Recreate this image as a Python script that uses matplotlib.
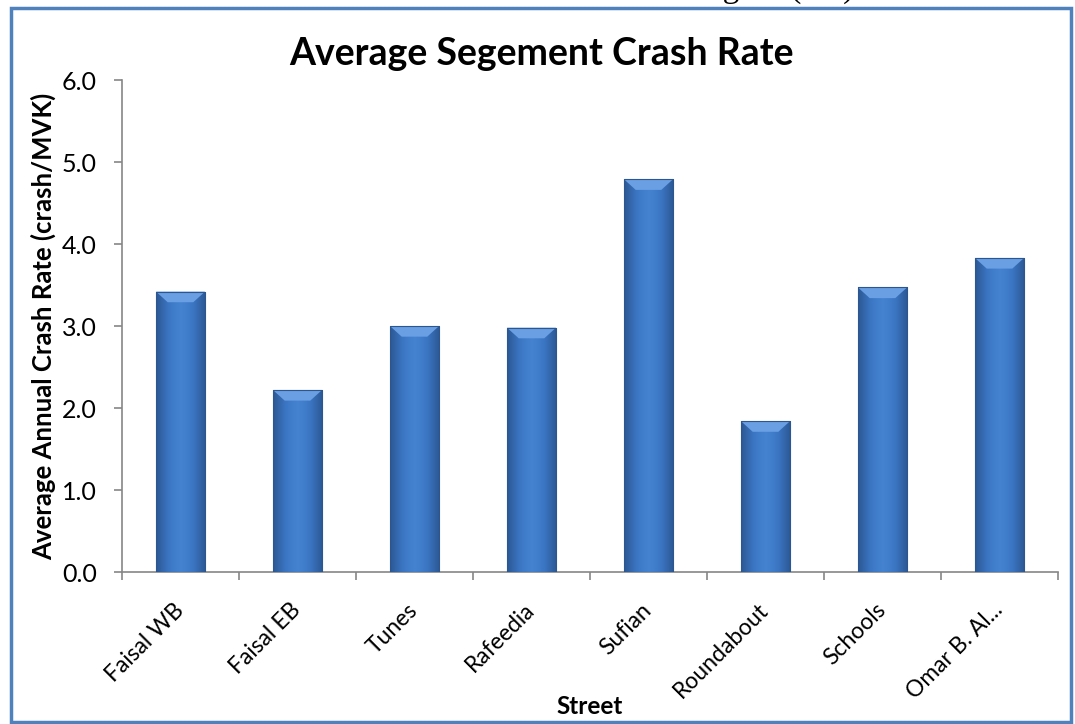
import numpy as np
import matplotlib
matplotlib.use("Agg")
import matplotlib.pyplot as plt
import matplotlib.transforms as mtransforms
from matplotlib.colors import LinearSegmentedColormap
from matplotlib.patches import Rectangle, Polygon

plt.rcParams['font.family'] = ['Lato', 'DejaVu Sans']

streets = ["Faisal WB", "Faisal EB", "Tunes", "Rafeedia", "Sufian",
           "Roundabout", "Schools", "Omar B. Al..."]
crash_rate = [3.42, 2.22, 3.00, 2.98, 4.79, 1.84, 3.47, 3.83]

fig = plt.figure(figsize=(10.75, 7.24), dpi=100)
ax = fig.add_axes([122 / 1075, 1 - 572 / 724, 936 / 1075, 492 / 724])

x = np.arange(len(streets))
bars = ax.bar(x, crash_rate, width=0.42, color='#3F7CC9', zorder=2)

# bevel-ish shading: horizontal gradient clipped to each bar, lighter top facet
grad_cmap = LinearSegmentedColormap.from_list(
    'bevel', ['#2C5894', '#3B76C3', '#4583D1', '#3B76C3', '#2C5894'])
grad = np.linspace(0, 1, 64).reshape(1, -1)
for b in bars:
    x0, w, h = b.get_x(), b.get_width(), b.get_height()
    im = ax.imshow(grad, cmap=grad_cmap, aspect='auto',
                   extent=[x0, x0 + w, 0, h], zorder=3)
    im.set_clip_path(b)
    bev = 0.13
    top = Polygon([[x0, h], [x0 + w, h], [x0 + w * 0.76, h - bev],
                   [x0 + w * 0.24, h - bev]], closed=True,
                  facecolor='#6A9FE3', edgecolor='none', zorder=4)
    ax.add_patch(top)
    ax.add_patch(Rectangle((x0, 0), w, h, fill=False, edgecolor='#2B5690',
                           linewidth=0.8, zorder=5))

ax.set_xlim(-0.5, len(streets) - 0.5)
ax.set_ylim(0, 6)
yt = np.arange(0, 6.1, 1.0)
ax.set_yticks(yt)
ax.set_yticklabels([f"{v:.1f}" for v in yt], fontsize=18)

ax.set_xticks(x)
ax.set_xticklabels(streets, rotation=45, ha='right', va='center',
                   rotation_mode='anchor', fontsize=16.5)
shift = mtransforms.ScaledTranslation(5 / 100, 0, fig.dpi_scale_trans)
for lab in ax.get_xticklabels():
    lab.set_transform(lab.get_transform() + shift)
ax.set_xticks(np.arange(-0.5, len(streets)), minor=True)
ax.tick_params(axis='x', which='major', length=0, pad=25)
ax.tick_params(axis='x', which='minor', length=6, color='#868686', width=1.2)
ax.tick_params(axis='y', length=6, color='#868686', width=1.2, pad=12)

for s in ['top', 'right']:
    ax.spines[s].set_visible(False)
for s in ['left', 'bottom']:
    ax.spines[s].set_color('#868686')
    ax.spines[s].set_linewidth(1.2)

ax.set_ylabel("Average Annual Crash Rate (crash/MVK)", fontsize=18.5,
              fontweight='bold')
ax.yaxis.set_label_coords(-0.0705, 0.5)
ax.set_xlabel("Street", fontsize=17.5, fontweight='bold')
ax.xaxis.set_label_coords(0.5, -0.25)

fig.text(541 / 1075, 1 - 65 / 724, "Average Segement Crash Rate",
         ha='center', va='baseline', fontsize=27, fontweight='bold')

# outer chart frame
fig.patches.append(Rectangle((11 / 1075, 2 / 724), 1060 / 1075, 714 / 724,
                             transform=fig.transFigure, fill=False,
                             edgecolor='#4F81BD', linewidth=2.5))

# caption above, cut off by the page edge
fig.text(695 / 1075, 1 + 3 / 724, "Figure (4.3)", ha='left', va='baseline',
         fontsize=24, family='Liberation Serif')

fig.savefig("out.png", dpi=100)
